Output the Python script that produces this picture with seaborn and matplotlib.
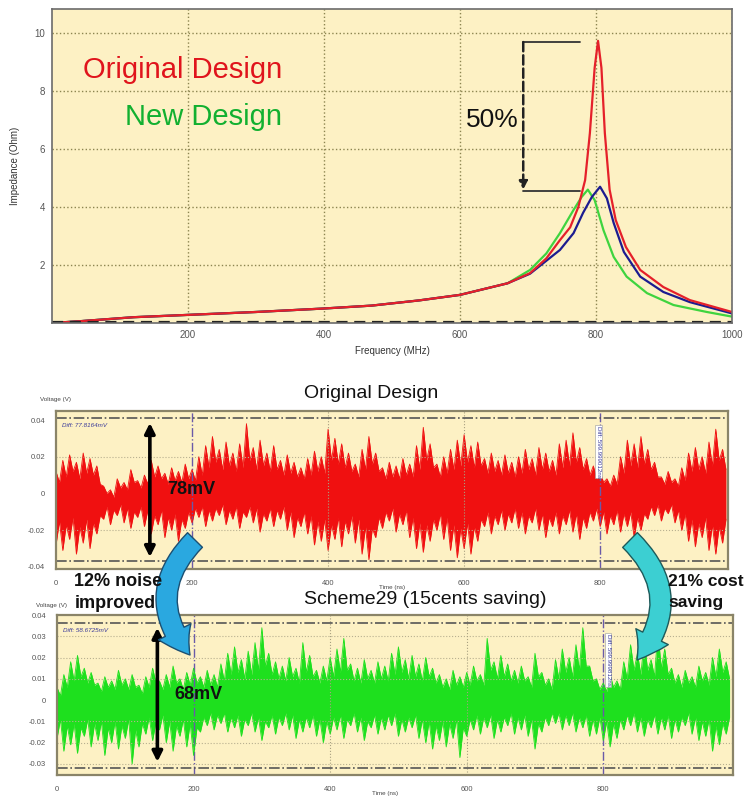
"""Impedance peak and supply-noise comparison, original vs new design."""
import matplotlib
matplotlib.use("Agg")

import matplotlib.pyplot as plt
import numpy as np
import seaborn as sns
from matplotlib.patches import ArrowStyle, FancyArrowPatch

W, H = 746, 796

# ---------------------------------------------------------------------------
# Data
# ---------------------------------------------------------------------------

# impedance traces: frequency (MHz) / impedance (Ohm)
freq_red = [0, 40, 120, 200, 300, 400, 470, 540, 600, 670, 703, 727, 747, 762,
            774, 784, 791, 798, 803, 808, 813, 820, 829, 844, 865, 899, 938, 1000]
imp_red = [0, 0.06, 0.2, 0.28, 0.38, 0.5, 0.6, 0.78, 0.97, 1.37, 1.72, 2.23, 2.86, 3.3,
           4.0, 4.93, 6.55, 8.8, 9.73, 8.8, 6.55, 4.6, 3.55, 2.62, 1.83, 1.24, 0.79, 0.38]

freq_blue = [0, 40, 120, 200, 300, 400, 470, 540, 600, 670, 703, 747, 767, 781,
             794, 806, 816, 826, 841, 865, 899, 938, 1000]
imp_blue = [0, 0.06, 0.2, 0.28, 0.38, 0.5, 0.6, 0.78, 0.97, 1.37, 1.7, 2.52, 3.1, 3.8,
            4.35, 4.7, 4.3, 3.45, 2.45, 1.6, 1.07, 0.72, 0.33]

freq_green = [0, 40, 120, 200, 300, 400, 470, 540, 600, 670, 703, 727, 747, 767,
              779, 788, 798, 811, 826, 845, 875, 914, 963, 1000]
imp_green = [0, 0.06, 0.2, 0.28, 0.38, 0.5, 0.6, 0.78, 0.97, 1.37, 1.83, 2.4, 3.1, 3.9,
             4.35, 4.6, 4.24, 3.2, 2.28, 1.6, 1.03, 0.62, 0.38, 0.22]

# noise trace outline (mV): spike tips every 10 ns from 0 ns, and the
# dense-core edge between neighbouring spikes (5 ns later)
red_top_peak = [12, 18, 21, 17, 22, 19, 15, 4, 2, 8, 6, 13, 7, 10, 18, 15, 11, 14, 12, 16,
                13, 20, 26, 31, 24, 28, 22, 27, 38, 25, 29, 22, 26, 18, 21, 17, 14, 19, 23, 20,
                35, 30, 27, 22, 16, 24, 31, 22, 14, 17, 15, 19, 16, 26, 36, 27, 16, 20, 24, 29,
                32, 26, 28, 19, 22, 18, 21, 17, 20, 24, 19, 25, 22, 18, 27, 29, 33, 25, 19, 15,
                12, 8, 10, 20, 29, 27, 31, 24, 17, 9, 12, 8, 14, 22, 25, 20, 28, 35, 24]
red_top_core = [6, 9, 12, 8, 11, 10, 5, 0, -2, 3, 2, 6, 3, 5, 9, 8, 5, 7, 6, 8,
                7, 10, 14, 17, 13, 15, 12, 14, 18, 13, 15, 12, 13, 10, 11, 9, 8, 10, 12, 11,
                18, 16, 14, 12, 9, 13, 16, 12, 8, 9, 8, 10, 9, 13, 18, 14, 9, 11, 13, 15,
                17, 14, 15, 11, 12, 10, 11, 9, 11, 13, 10, 13, 12, 10, 14, 15, 17, 13, 10, 8,
                6, 4, 5, 11, 15, 14, 16, 13, 9, 5, 6, 4, 7, 12, 13, 11, 15, 18, 13]
red_bot_peak = [-28, -31, -25, -33, -27, -30, -22, -14, -17, -12, -16, -19, -13, -18, -22,
                -17, -24, -20, -26, -19, -16, -13, -18, -15, -12, -17, -14, -19, -13, -16,
                -21, -15, -18, -14, -20, -24, -18, -22, -28, -26, -31, -25, -29, -22, -27,
                -33, -36, -24, -19, -15, -21, -17, -24, -30, -32, -26, -20, -25, -31, -35,
                -30, -33, -26, -18, -22, -17, -20, -16, -19, -22, -16, -20, -24, -18, -22,
                -17, -21, -25, -19, -15, -18, -22, -17, -21, -18, -24, -20, -14, -12, -15,
                -11, -16, -20, -26, -29, -24, -31, -33, -27]
red_bot_core = [-15, -17, -13, -18, -14, -16, -12, -7, -9, -6, -8, -10, -7, -9, -12, -9, -13,
                -11, -14, -10, -8, -7, -9, -8, -6, -9, -7, -10, -7, -8, -11, -8, -9, -7, -10,
                -13, -10, -12, -15, -14, -17, -13, -15, -12, -14, -18, -19, -13, -10, -8, -11,
                -9, -13, -16, -17, -14, -11, -13, -17, -19, -16, -18, -14, -10, -12, -9, -11,
                -8, -10, -12, -8, -11, -13, -10, -12, -9, -11, -13, -10, -8, -10, -12, -9,
                -11, -10, -13, -11, -7, -6, -8, -6, -9, -11, -14, -16, -13, -17, -18, -14]

green_top_peak = [6, 12, 18, 21, 15, 13, 8, 11, 9, 14, 10, 12, 7, 11, 15, 9, 12, 16, 10, 13,
                  15, 11, 14, 12, 17, 22, 25, 19, 23, 27, 34, 22, 18, 16, 20, 15, 27, 21, 14, 16,
                  20, 24, 29, 17, 15, 19, 14, 18, 16, 22, 25, 19, 21, 17, 20, 15, 12, 10, 14, 11,
                  13, 16, 12, 29, 18, 21, 17, 14, 16, 11, 22, 13, 10, 19, 24, 20, 26, 34, 16, 10,
                  8, 12, 9, 18, 26, 22, 28, 19, 32, 24, 15, 12, 14, 11, 16, 13, 20, 24, 18]
green_top_core = [2, 6, 9, 11, 8, 7, 4, 6, 5, 7, 5, 6, 3, 6, 8, 5, 6, 8, 5, 7,
                  8, 6, 7, 6, 9, 12, 13, 10, 12, 14, 16, 12, 10, 9, 11, 8, 13, 11, 8, 9,
                  11, 13, 14, 9, 8, 10, 8, 10, 9, 12, 13, 10, 11, 9, 11, 8, 6, 5, 7, 6,
                  7, 9, 7, 14, 10, 11, 9, 8, 9, 6, 11, 7, 5, 10, 13, 11, 14, 16, 9, 5,
                  4, 6, 5, 10, 14, 12, 14, 11, 15, 12, 8, 6, 8, 6, 9, 7, 11, 13, 10]
green_bot_peak = [-18, -24, -21, -25, -17, -22, -19, -26, -20, -23, -18, -30, -22, -16, -19,
                  -14, -20, -24, -17, -22, -26, -15, -12, -14, -11, -15, -13, -17, -12, -15,
                  -19, -13, -16, -12, -14, -18, -15, -13, -17, -20, -16, -14, -18, -12, -15,
                  -19, -13, -16, -14, -12, -17, -15, -13, -18, -20, -23, -19, -22, -18, -27,
                  -17, -14, -16, -13, -18, -15, -12, -16, -14, -17, -23, -15, -12, -11, -14,
                  -12, -15, -13, -17, -16, -19, -22, -18, -14, -12, -15, -17, -13, -16, -14,
                  -18, -15, -12, -16, -19, -17, -24, -21, -16]
green_bot_core = [-9, -12, -11, -13, -9, -11, -10, -13, -10, -12, -9, -14, -11, -8, -10, -7,
                  -10, -12, -9, -11, -13, -8, -6, -7, -6, -8, -7, -9, -6, -8, -10, -7, -8, -6,
                  -7, -9, -8, -7, -9, -10, -8, -7, -9, -6, -8, -10, -7, -8, -7, -6, -9, -8, -7,
                  -9, -10, -12, -10, -11, -9, -13, -9, -7, -8, -7, -9, -8, -6, -8, -7, -9, -11,
                  -8, -6, -6, -7, -6, -8, -7, -9, -8, -10, -11, -9, -7, -6, -8, -9, -7, -8, -7,
                  -9, -8, -6, -8, -10, -9, -12, -11, -8]

red_ticks = [-0.04, -0.02, 0, 0.02, 0.04]
red_ticklabels = ["-0.04", "-0.02", "0", "0.02", "0.04"]
green_ticks = [-0.03, -0.02, -0.01, 0, 0.01, 0.02, 0.03, 0.04]
green_ticklabels = ["-0.03", "-0.02", "-0.01", "0", "0.01", "0.02", "0.03", "0.04"]

# ---------------------------------------------------------------------------
# Style
# ---------------------------------------------------------------------------

sns.set_style("white")
plt.rcParams["font.family"] = ["Liberation Sans", "DejaVu Sans"]

PANEL_BG = "#FDF1C4"
GRID = "#8c8550"
TICK = "#555555"


def rect(x0, y0, x1, y1):
    """Pixel box (top-left origin) -> figure fraction rect."""
    return [x0 / W, 1 - y1 / H, (x1 - x0) / W, (y1 - y0) / H]


def fxy(x, y):
    return (x / W, 1 - y / H)


def interleave(a, b):
    out = np.empty(len(a) + len(b))
    out[0::2] = a
    out[1::2] = b
    return out


fig = plt.figure(figsize=(W / 100, H / 100), dpi=100)
fig.patch.set_facecolor("white")

# ---------------------------------------------------------------------------
# Impedance panel
# ---------------------------------------------------------------------------

ax = fig.add_axes(rect(52, 9, 732, 323))
ax.set_facecolor(PANEL_BG)
ax.set_xlim(0, 1000)
ax.set_ylim(0, 10.83)
ax.set_xticks([200, 400, 600, 800, 1000])
ax.set_yticks([2, 4, 6, 8, 10])
ax.grid(True, ls=":", color=GRID, lw=1)
ax.tick_params(labelsize=7, colors=TICK, length=0, pad=5)
for s in ax.spines.values():
    s.set_color("#6b6b6b")
    s.set_linewidth(1.2)

sns.lineplot(x=freq_green, y=imp_green, ax=ax, color="#3fd43f", lw=1.6, sort=False)
sns.lineplot(x=freq_blue, y=imp_blue, ax=ax, color="#1c1c90", lw=1.6, sort=False)
sns.lineplot(x=freq_red, y=imp_red, ax=ax, color="#e5202a", lw=1.6, sort=False)
ax.axhline(0.05, color="#222222", ls=(0, (5, 3)), lw=1.6)

ax.set_xlabel("Frequency (MHz)", fontsize=7, color="#333333", labelpad=4)
ax.set_ylabel("Impedance (Ohm)", fontsize=7, color="#333333", labelpad=10)

ax.text(46, 8.72, "Original Design", color="#e0141c", fontsize=21, va="center")
ax.text(107, 7.1, "New Design", color="#12b030", fontsize=21, va="center")
ax.text(609, 7.0, "50%", color="#111111", fontsize=19, va="center")

# 50% bracket
ax.plot([693, 776], [9.69, 9.69], color="#333333", lw=1.3)
ax.plot([693, 776], [4.55, 4.55], color="#333333", lw=1.3)
ax.annotate("", xy=(693, 4.6), xytext=(693, 9.69),
            arrowprops=dict(arrowstyle="-|>", ls="--", lw=1.8, color="#222222",
                            mutation_scale=12, shrinkA=0, shrinkB=0))

# ---------------------------------------------------------------------------
# Noise panels
# ---------------------------------------------------------------------------


def noise_panel(box, xmax, ylim, ticks, ticklabels, top_peak, top_core, bot_peak, bot_core,
                color, cursor_top, cursor_bot, diff_text, cursor_text, cursor_x, cursor_y,
                arrow_x, arrow_top, arrow_bot, span_text):
    a = fig.add_axes(rect(*box))
    a.set_facecolor(PANEL_BG)
    a.set_xlim(0, xmax)
    a.set_ylim(*ylim)
    a.set_xticks([0, 200, 400, 600, 800])
    a.set_yticks(ticks)
    a.set_yticklabels(ticklabels)
    a.tick_params(labelsize=5.5, colors=TICK, length=0, pad=8)
    for s in a.spines.values():
        s.set_color("#8a8468")
        s.set_linewidth(1.6)

    for yv in ticks:
        if yv != 0 and abs(yv) < 0.035:
            a.axhline(yv, color="#b8b090", ls=":", lw=0.8)
    for xv in (400, 600):
        a.axvline(xv, color="#a8a080", ls=":", lw=0.8)
    for xv in (200, 800):
        a.axvline(xv, color="#6a5aa8", ls="-.", lw=1)
    for yv in (cursor_top, cursor_bot):
        a.axhline(yv, color="#555555", ls="-.", lw=1.2)

    t_peak = np.arange(len(top_peak)) * 10
    t = interleave(t_peak, t_peak + 5)
    top = interleave(top_peak, top_core) / 1000
    bot = interleave(bot_peak, bot_core) / 1000
    a.fill_between(t, bot, top, color=color, lw=0)
    sns.lineplot(x=t, y=top, ax=a, color=color, lw=0.6, sort=False)
    sns.lineplot(x=t, y=bot, ax=a, color=color, lw=0.6, sort=False)
    a.set_xlabel("")
    a.set_ylabel("")

    a.text(9, cursor_top - 0.0025, diff_text, fontsize=4.5, color="#3a3a9a",
           style="italic", va="top")
    a.text(cursor_x, cursor_y, cursor_text, fontsize=4.5, color="#3a3a9a",
           rotation=-90, ha="center", va="top",
           bbox=dict(boxstyle="square,pad=0.15", fc="white", ec="#999999", lw=0.4))

    a.annotate("", xy=(arrow_x, arrow_top), xytext=(arrow_x, arrow_bot),
               arrowprops=dict(arrowstyle="<|-|>", color="black", lw=2.6,
                               mutation_scale=15, shrinkA=0, shrinkB=0))
    a.text(arrow_x + 25, (arrow_top + arrow_bot) / 2, span_text, fontsize=13,
           fontweight="bold", color="#111111", va="center")
    return a


noise_panel((56, 411, 728, 569), 988, (-0.0411, 0.0449), red_ticks, red_ticklabels,
            red_top_peak, red_top_core, red_bot_peak, red_bot_core, "#f01010",
            0.041, -0.0368, "Diff: 77.8164mV", "Diff: 599.999012ns", 797, 0.037,
            138, 0.0384, -0.0346, "78mV")

noise_panel((57, 615, 733, 775), 990, (-0.0352, 0.0399), green_ticks, green_ticklabels,
            green_top_peak, green_top_core, green_bot_peak, green_bot_core, "#1ee01e",
            0.0362, -0.0320, "Diff: 58.6725mV", "Diff: 599.999812ns", 807, 0.031,
            147, 0.034, -0.029, "68mV")

# ---------------------------------------------------------------------------
# Figure-level labels and arrows
# ---------------------------------------------------------------------------

fig.text(*fxy(371, 394), "Original Design", fontsize=14, ha="center", va="center",
         color="#111111")
fig.text(*fxy(425, 600), "Scheme29 (15cents saving)", fontsize=14, ha="center",
         va="center", color="#111111")

fig.text(*fxy(40, 399), "Voltage (V)", fontsize=4.5, color="#444444", va="center")
fig.text(*fxy(36, 605), "Voltage (V)", fontsize=4.5, color="#444444", va="center")
fig.text(*fxy(392, 588), "Time (ns)", fontsize=4.5, color="#444444", ha="center",
         va="center")
fig.text(*fxy(385, 794), "Time (ns)", fontsize=4.5, color="#444444", ha="center",
         va="center")

arrow_style = ArrowStyle.Simple(head_length=20, head_width=26, tail_width=15)
fig.add_artist(FancyArrowPatch(
    fxy(195, 540), fxy(190, 655), transform=fig.transFigure,
    connectionstyle="arc3,rad=0.45", arrowstyle=arrow_style, mutation_scale=1,
    fc="#2aa8e0", ec="#1b4f72", lw=1, shrinkA=0, shrinkB=0))
fig.add_artist(FancyArrowPatch(
    fxy(630, 540), fxy(637, 660), transform=fig.transFigure,
    connectionstyle="arc3,rad=-0.45", arrowstyle=arrow_style, mutation_scale=1,
    fc="#3ccfd2", ec="#1d5a5a", lw=1, shrinkA=0, shrinkB=0))

for txt, (x, y), size in [("12% noise", (74, 582), 13), ("improved", (75, 603), 13),
                          ("21% cost", (668, 581), 12.5), ("saving", (668, 603), 12.5)]:
    fig.text(*fxy(x, y), txt, fontsize=size, fontweight="bold", color="#111111",
             va="center")

fig.savefig("out.png", dpi=100, facecolor="white")
